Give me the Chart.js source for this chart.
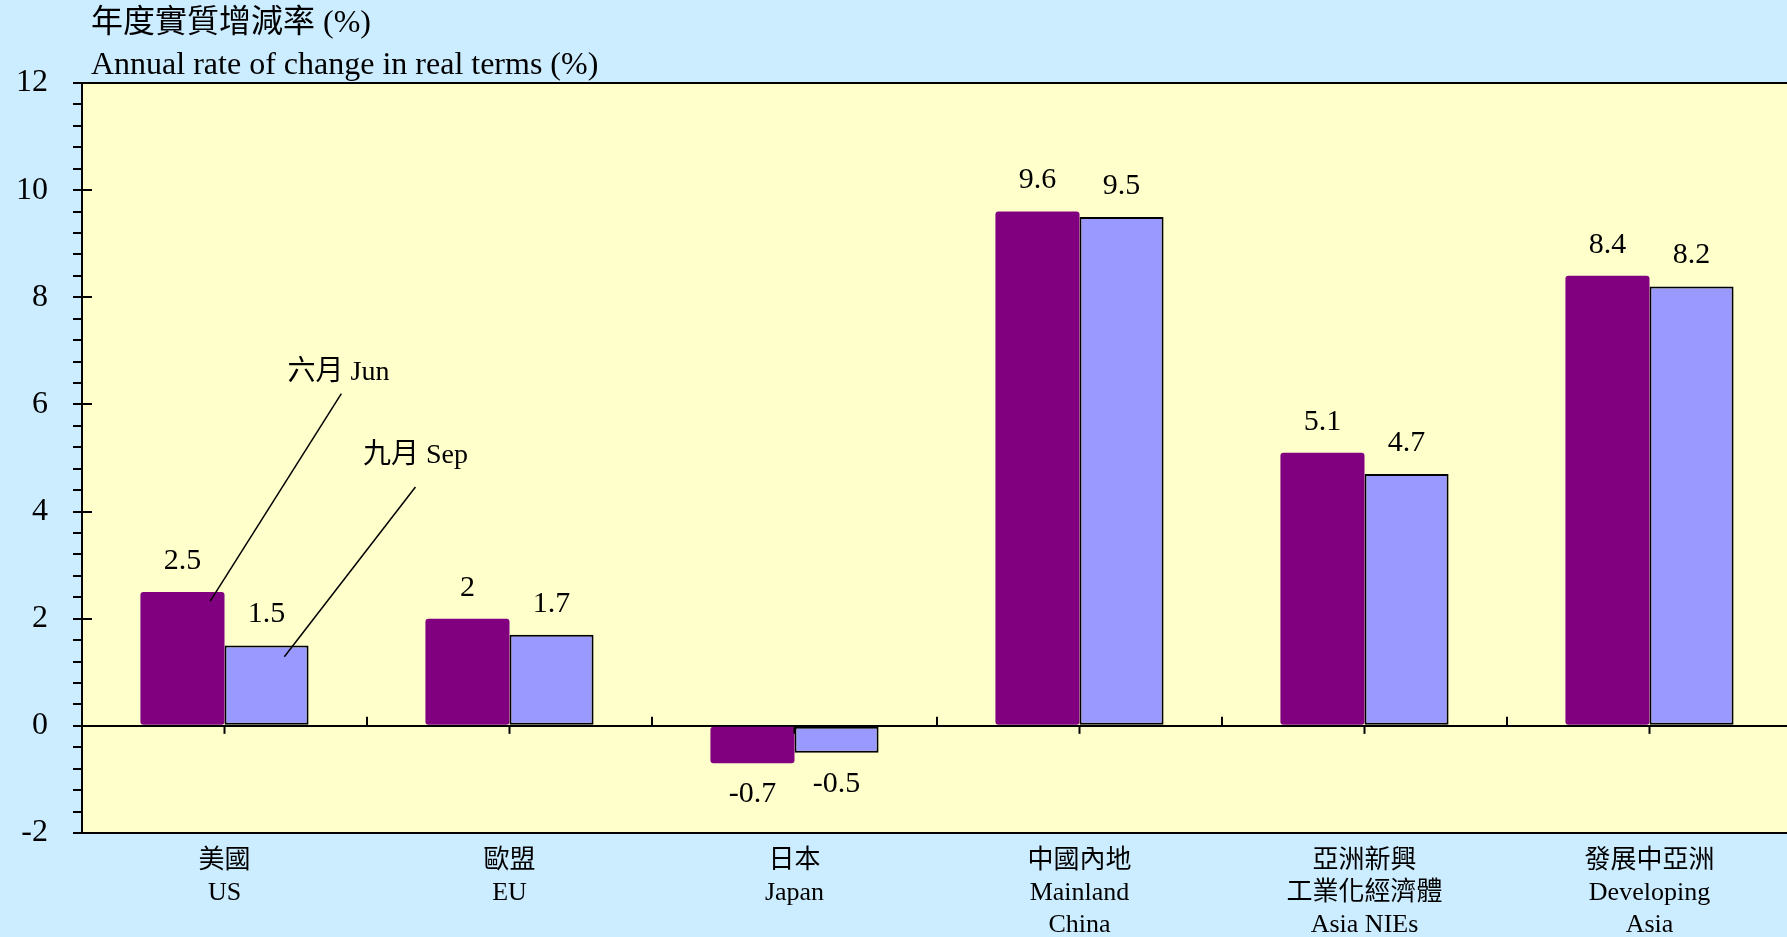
<!DOCTYPE html>
<html>
<head>
<meta charset="utf-8">
<script src="https://cdn.jsdelivr.net/npm/chart.js@4.4.1/dist/chart.umd.min.js"></script>
<style>
  html, body { margin: 0; padding: 0; background: #CCECFF; overflow: hidden; }
  canvas { display: block; }
</style>
</head>
<body>
<canvas id="growthChart" width="1792" height="937"></canvas>
<script>
// data
var categories = [
  ['美國', 'US'],
  ['歐盟', 'EU'],
  ['日本', 'Japan'],
  ['中國內地', 'Mainland', 'China'],
  ['亞洲新興', '工業化經濟體', 'Asia NIEs'],
  ['發展中亞洲', 'Developing', 'Asia']
];
var junValues = [2.5, 2, -0.7, 9.6, 5.1, 8.4];
var sepValues = [1.5, 1.7, -0.5, 9.5, 4.7, 8.2];
var yTicks = [-2, 0, 2, 4, 6, 8, 10, 12];
var titleLines = ['年度實質增減率 (%)', 'Annual rate of change in real terms (%)'];

var FONT = "'Liberation Serif', 'Times New Roman', 'Noto Sans CJK TC', serif";

// callout labels for the two series (in category / value units)
var callouts = [
  { text: '六月 Jun', tx: 0.40, ty: 6.6, x1: 0.41, y1: 6.2, x2: -0.05, y2: 2.33 },
  { text: '九月 Sep', tx: 0.67, ty: 5.05, x1: 0.67, y1: 4.46, x2: 0.21, y2: 1.29 }
];

// plot background + borders + ticks
var decor = {
  id: 'decor',
  beforeDraw: function(chart) {
    var a = chart.chartArea, c = chart.ctx;
    c.save();
    c.fillStyle = '#FFFFCC';
    c.fillRect(a.left, a.top, a.right - a.left, a.bottom - a.top);
    c.restore();
  },
  afterDraw: function(chart) {
    var a = chart.chartArea, c = chart.ctx;
    var ys = chart.scales.y, xs = chart.scales.x;
    c.save();
    c.strokeStyle = '#000';
    c.lineWidth = 2;
    // top border
    c.beginPath();
    c.moveTo(a.left, a.top);
    c.lineTo(a.right, a.top);
    c.stroke();
    // y ticks, minor every 0.4
    for (var k = 0; k <= 35; k++) {
      var v = -2 + k * 0.4;
      var py = Math.round(ys.getPixelForValue(v));
      var major = Math.abs(v / 2 - Math.round(v / 2)) < 1e-6;
      c.beginPath();
      c.moveTo(a.left - 9, py);
      c.lineTo(major ? a.left + 10 : a.left, py);
      c.stroke();
    }
    // category ticks on the zero line
    var zy = ys.getPixelForValue(0);
    for (var i = 0; i < categories.length; i++) {
      var cx = xs.getPixelForValue(i);
      c.beginPath();
      c.moveTo(cx, zy);
      c.lineTo(cx, zy + 8);
      c.stroke();
      if (i < categories.length - 1) {
        var bx = xs.getPixelForValue(i + 0.5);
        c.beginPath();
        c.moveTo(bx, zy);
        c.lineTo(bx, zy - 9);
        c.stroke();
      }
    }
    // value labels
    c.fillStyle = '#000';
    c.font = '30px ' + FONT;
    c.textAlign = 'center';
    c.textBaseline = 'middle';
    chart.data.datasets.forEach(function(ds, di) {
      chart.getDatasetMeta(di).data.forEach(function(bar, j) {
        var val = ds.data[j];
        c.fillText(String(val), bar.x, val >= 0 ? bar.y - 31 : bar.y + 31);
      });
    });
    // callouts
    c.lineWidth = 1.5;
    c.font = '28px ' + FONT;
    callouts.forEach(function(o) {
      c.fillText(o.text, xs.getPixelForValue(o.tx), ys.getPixelForValue(o.ty));
      c.beginPath();
      c.moveTo(xs.getPixelForValue(o.x1), ys.getPixelForValue(o.y1));
      c.lineTo(xs.getPixelForValue(o.x2), ys.getPixelForValue(o.y2));
      c.stroke();
    });
    // title
    c.textAlign = 'left';
    c.font = '32px ' + FONT;
    c.fillText(titleLines[0], 91, 24);
    c.fillText(titleLines[1], 91, 66);
    c.restore();
  }
};

var ctx = document.getElementById('growthChart').getContext('2d');
var myChart = new Chart(ctx, {
  type: 'bar',
  data: {
    labels: categories,
    datasets: [{
        label: '六月 Jun',
        data: junValues,
        backgroundColor: '#800080',
        borderColor: '#800080',
        borderWidth: 0,
        borderRadius: 3,
        borderSkipped: false
      },
      {
        label: '九月 Sep',
        data: sepValues,
        backgroundColor: '#9999FF',
        borderColor: '#000000',
        borderWidth: 2,
        borderSkipped: false
      }
    ]
  },
  options: {
    responsive: false,
    animation: false,
    devicePixelRatio: 1,
    layout: { padding: { top: 83, right: 0, left: 0, bottom: 0 } },
    plugins: {
      legend: { display: false },
      tooltip: { enabled: false },
      title: { display: false }
    },
    datasets: {
      bar: { categoryPercentage: 0.59, barPercentage: 1 }
    },
    scales: {
      x: {
        offset: true,
        grid: { display: false, drawTicks: false },
        border: { display: true, color: '#000', width: 2 },
        ticks: {
          color: '#000',
          font: { family: FONT, size: 26, lineHeight: 1.23 },
          padding: 12,
          maxRotation: 0,
          autoSkip: false
        },
        afterFit: function(s) { s.height = 104; }
      },
      y: {
        min: -2,
        max: 12,
        afterBuildTicks: function(s) {
          s.ticks = yTicks.map(function(v) { return { value: v }; });
        },
        grid: {
          drawTicks: false,
          color: function(c) { return c.tick && c.tick.value === 0 ? '#000' : 'rgba(0,0,0,0)'; },
          lineWidth: 2
        },
        border: { display: true, color: '#000', width: 2 },
        ticks: {
          color: '#000',
          font: { family: FONT, size: 32 },
          padding: 34
        },
        afterFit: function(s) { s.width = 82; }
      }
    }
  },
  plugins: [decor]
});
</script>
</body>
</html>
